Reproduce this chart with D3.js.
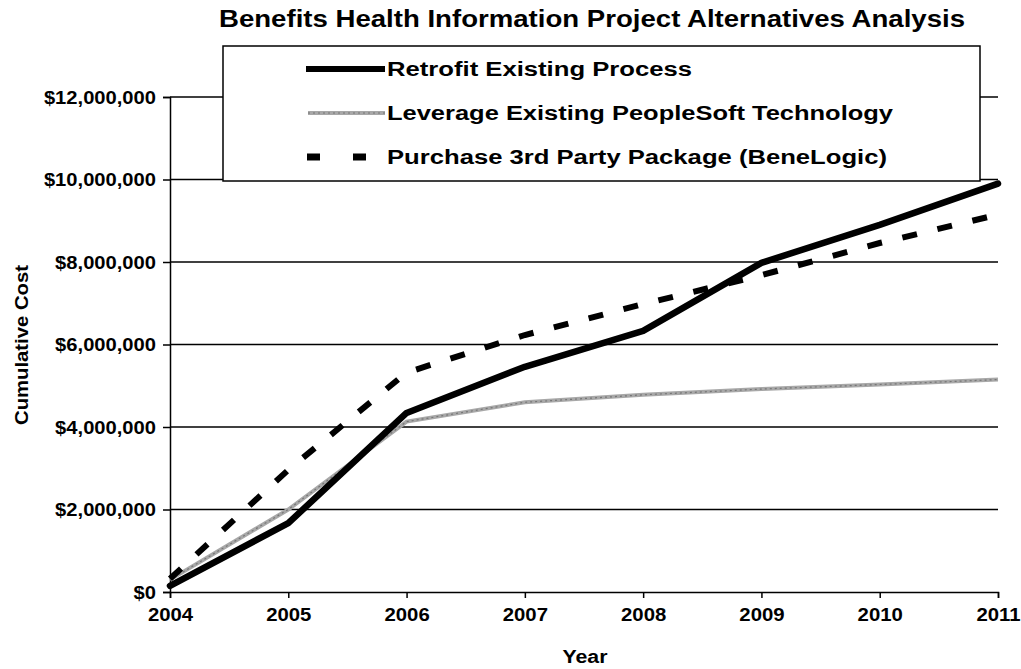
<!DOCTYPE html>
<html><head><meta charset="utf-8">
<script src="https://cdn.jsdelivr.net/npm/d3@7"></script>
<style>body{margin:0;background:#fff}text{font-family:"Liberation Sans",Arial,sans-serif;font-weight:bold;fill:#000}</style>
</head><body><svg id="c" width="1021" height="669"></svg>
<script>
const years = [2004,2005,2006,2007,2008,2009,2010,2011];
const retrofit = [150000,1670000,4340000,5460000,6330000,7980000,8900000,9900000];
const leverage = [300000,2000000,4130000,4600000,4780000,4920000,5030000,5150000];
const purchase = [320000,2960000,5320000,6230000,6980000,7680000,8460000,9150000];
const yTicks = [0,2000000,4000000,6000000,8000000,10000000,12000000];
const seriesNames = ["Retrofit Existing Process","Leverage Existing PeopleSoft Technology","Purchase 3rd Party Package (BeneLogic)"];

const svg = d3.select("#c");
const x = d3.scaleLinear().domain([2004,2011]).range([170,998]);
const y = d3.scaleLinear().domain([0,12000000]).range([592,97]);

function stretch(sel, f){
  sel.each(function(){
    const w = this.getComputedTextLength();
    d3.select(this).attr("textLength", w*f).attr("lengthAdjust","spacingAndGlyphs");
  });
}

// gridlines
svg.append("g").selectAll("line").data(yTicks.slice(1)).join("line")
  .attr("x1",170).attr("x2",998).attr("y1",d=>y(d)).attr("y2",d=>y(d))
  .attr("stroke","#000").attr("stroke-width",1.5);

const fmt = d => "$" + d3.format(",")(d);
const ya = svg.append("g").attr("transform","translate(170,0)")
  .call(d3.axisLeft(y).tickValues(yTicks).tickFormat(fmt).tickSize(7).tickPadding(7));
ya.select(".domain").attr("stroke-width",1.5);
ya.selectAll("text").style("font-size","18px").attr("dy","0.36em");
ya.selectAll(".tick line").attr("stroke-width",1.5);
stretch(ya.selectAll("text"), 1.12);

const xa = svg.append("g").attr("transform","translate(0,592)")
  .call(d3.axisBottom(x).tickValues(years).tickFormat(d3.format("d")).tickSize(6).tickPadding(10));
xa.select(".domain").attr("stroke-width",1.5);
xa.selectAll("text").style("font-size","19px").attr("dy","0.71em");
xa.selectAll(".tick line").attr("stroke-width",1.5);
stretch(xa.selectAll("text"), 1.07);

const line = d3.line().x((d,i)=>x(years[i])).y(d=>y(d));
svg.append("path").datum(leverage).attr("d",line).attr("fill","none")
  .attr("stroke","#a8a8a8").attr("stroke-width",4);
svg.append("path").datum(leverage).attr("d",line).attr("fill","none")
  .attr("stroke","#555").attr("stroke-width",1.2).attr("stroke-dasharray","2 3").attr("opacity",0.6);
svg.append("path").datum(purchase).attr("d",line).attr("fill","none")
  .attr("stroke","#000").attr("stroke-width",6).attr("stroke-dasharray","15 21");
svg.append("path").datum(retrofit).attr("d",line).attr("fill","none")
  .attr("stroke","#000").attr("stroke-width",6.5).attr("stroke-linejoin","round").attr("stroke-linecap","round");

// legend
const lg = svg.append("g");
lg.append("rect").attr("x",223).attr("y",46).attr("width",757).attr("height",135)
  .attr("fill","#fff").attr("stroke","#000").attr("stroke-width",1.5);
const rows = [69,113,157];
const textW = [305,506,500];
lg.append("line").attr("x1",306).attr("x2",385).attr("y1",rows[0]).attr("y2",rows[0])
  .attr("stroke","#000").attr("stroke-width",6);
lg.append("line").attr("x1",308).attr("x2",385).attr("y1",rows[1]).attr("y2",rows[1])
  .attr("stroke","#a8a8a8").attr("stroke-width",4);
lg.append("line").attr("x1",308).attr("x2",385).attr("y1",rows[1]).attr("y2",rows[1])
  .attr("stroke","#555").attr("stroke-width",1.2).attr("stroke-dasharray","2 3").attr("opacity",0.6);
lg.append("line").attr("x1",307).attr("x2",376).attr("y1",rows[2]).attr("y2",rows[2])
  .attr("stroke","#000").attr("stroke-width",7).attr("stroke-dasharray","13 33");
lg.selectAll("text.lt").data(seriesNames).join("text").attr("class","lt")
  .attr("x",387).attr("y",(d,i)=>rows[i]+7).style("font-size","20px")
  .attr("textLength",(d,i)=>textW[i]).attr("lengthAdjust","spacingAndGlyphs").text(d=>d);

svg.append("text").attr("x",219).attr("y",27)
  .style("font-size","23px").attr("textLength",746).attr("lengthAdjust","spacingAndGlyphs")
  .text("Benefits Health Information Project Alternatives Analysis");
svg.append("text").attr("transform","translate(28,345) rotate(-90)").attr("text-anchor","middle")
  .style("font-size","18px").attr("textLength",160).attr("lengthAdjust","spacingAndGlyphs")
  .text("Cumulative Cost");
svg.append("text").attr("x",585).attr("y",663).attr("text-anchor","middle")
  .style("font-size","18px").attr("textLength",45).attr("lengthAdjust","spacingAndGlyphs")
  .text("Year");
</script></body></html>
